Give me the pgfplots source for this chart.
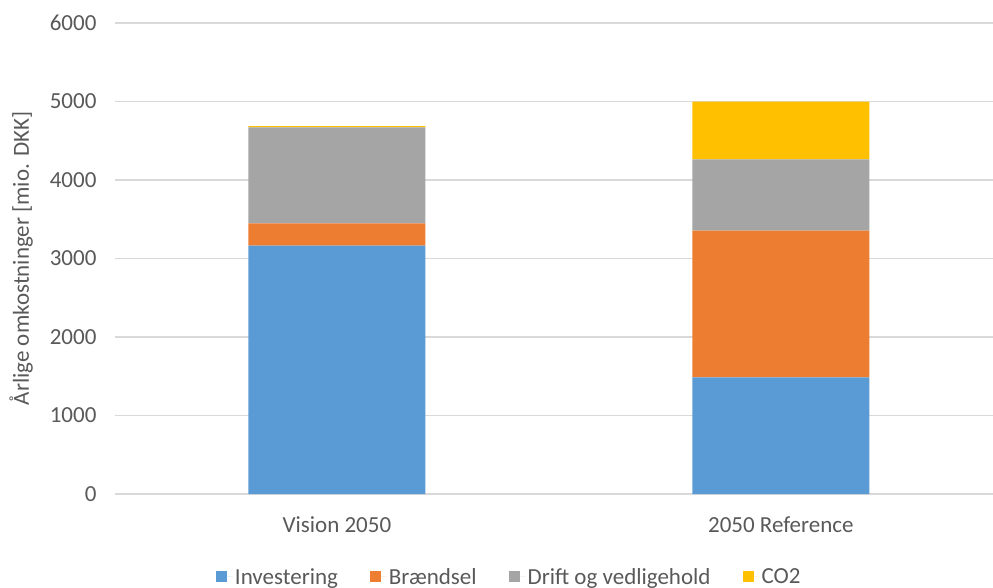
\documentclass[border=0pt]{standalone}
\usepackage{pgfplots}
\pgfplotsset{compat=1.18}
\usepackage{fontspec}
\setmainfont{Carlito}
\definecolor{cblue}{HTML}{5B9BD5}
\definecolor{corange}{HTML}{ED7D31}
\definecolor{cgray}{HTML}{A5A5A5}
\definecolor{cgold}{HTML}{FFC000}
\definecolor{ctext}{HTML}{595959}
\definecolor{cgrid}{HTML}{D9D9D9}
\begin{document}
\begin{tikzpicture}
\useasboundingbox (-115pt,-93pt) rectangle (878pt,494pt);
\begin{axis}[
  at={(0,0)}, anchor=south west,
  scale only axis, width=878pt, height=471pt,
  ybar stacked, bar width=177pt,
  xmin=-0.5, xmax=1.478,
  ymin=0, ymax=6000,
  xtick={0,1}, xticklabels={Vision 2050, 2050 Reference},
  ytick={0,1000,...,6000},
  ymajorgrids, grid style={cgrid, line width=1.2pt},
  axis y line*=left,
  y axis line style={draw=none},
  axis x line*=bottom,
  x axis line style={cgrid, line width=1.2pt, -},
  major tick length=0pt,
  tick label style={font=\fontsize{23}{27}\selectfont, text=ctext},
  yticklabel style={xshift=-15pt},
  xticklabel style={yshift=-19pt},
  scaled y ticks=false,
  /pgf/number format/assume math mode=true,
  /pgf/number format/1000 sep={},
  ylabel={Årlige omkostninger [mio. DKK]},
  every axis y label/.style={at={(axis description cs:-0.107,0.5)}, rotate=90, anchor=center,
    font=\fontsize{23}{27}\selectfont, text=ctext},
  legend columns=-1,
  legend style={at={(0.449,-0.176)}, anchor=center, draw=none, fill=none,
    font=\fontsize{23}{27}\selectfont, text=ctext, inner sep=0pt,
    /tikz/every even column/.append style={column sep=30pt}},
  legend image code/.code={\fill[#1] (0pt,-5.5pt) rectangle (11pt,5.5pt); \path (0pt,0pt) -- (17pt,0pt);},
]
\addplot[fill=cblue, draw=none] coordinates {(0,3163) (1,1487)};
\addplot[fill=corange, draw=none] coordinates {(0,285) (1,1867)};
\addplot[fill=cgray, draw=none] coordinates {(0,1223) (1,910)};
\addplot[fill=cgold, draw=none] coordinates {(0,15) (1,734)};
\legend{Investering, Brændsel, Drift og vedligehold, CO2}
\end{axis}
\end{tikzpicture}
\end{document}
